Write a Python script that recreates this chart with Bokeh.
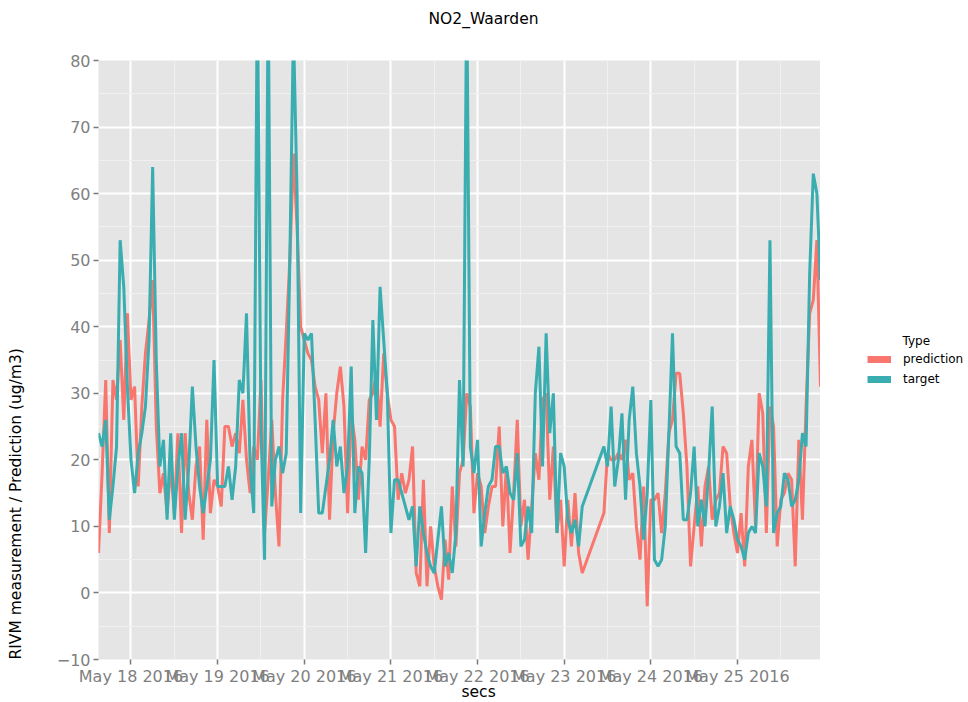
import pandas as pd
from bokeh.plotting import figure
from bokeh.layouts import row
from bokeh.models import (Range1d, FixedTicker, DatetimeTickFormatter, Title,
                          Legend, LegendItem, Label)
from bokeh.embed import file_html
from bokeh.resources import INLINE

# ---------------- data ----------------
start_day = "2016-05-17"
# hour offsets from start_day 00:00 (gap in the record on May 23 early morning)
hours = list(range(15, 150)) + list(range(155, 216))

prediction = [
    6, 18, 32, 9, 32, 29, 38, 26, 42, 29,
    31, 16, 28, 36, 41, 47, 25, 15, 18, 12,
    19, 12, 24, 9, 24, 15, 11, 19, 22, 8,
    26, 12, 17, 16, 13, 25, 25, 22, 24, 21,
    29, 20, 15, 22, 20, 32, 9, 17, 26, 15,
    7, 29, 39, 50, 66, 55, 40, 38, 36, 35,
    31, 29, 21, 30, 11, 24, 30, 34, 28, 12,
    27, 23, 14, 22, 20, 29, 30, 33, 25, 36,
    30, 26, 25, 14, 18, 15, 17, 22, 3, 1,
    17, 1, 10, 4, 1, -1, 8, 2, 16, 7,
    18, 20, 30, 28, 12, 18, 16, 9, 13, 16,
    16, 25, 10, 19, 6, 15, 26, 10, 14, 5,
    13, 21, 17, 29, 30, 14, 22, 9, 14, 4,
    14, 7, 15, 6, 3,
    12, 21, 20, 20, 21, 20, 23, 17, 18, 10,
    5, 16, -2, 14, 14, 15, 9, 15, 24, 26,
    33, 33, 27, 19, 4, 10, 16, 7, 16, 19,
    11, 14, 15, 22, 21, 13, 9, 6, 12, 4,
    19, 23, 10, 30, 27, 9, 28, 25, 7, 14,
    15, 18, 17, 4, 23, 11, 28, 42, 44, 53,
    31,
]

target = [
    24, 22, 26, 11, 16, 22, 53, 46, 31, 20,
    15, 21, 24, 28, 38, 64, 35, 19, 23, 11,
    24, 11, 19, 24, 11, 19, 31, 22, 16, 12,
    16, 20, 35, 16, 16, 16, 19, 14, 19, 32,
    30, 42, 19, 12, 92, 25, 5, 92, 13, 20,
    22, 18, 21, 50, 85, 60, 12, 39, 38, 39,
    26, 12, 12, 16, 20, 26, 19, 22, 15, 19,
    34, 12, 19, 18, 6, 20, 41, 26, 46, 38,
    30, 9, 17, 17, 15, 13, 11, 13, 4, 13,
    9, 6, 4, 3, 8, 13, 4, 6, 3, 9,
    32, 19, 92, 22, 18, 23, 7, 12, 16, 17,
    22, 22, 18, 19, 15, 14, 21, 7, 8, 13,
    9, 30, 37, 19, 39, 24, 30, 9, 21, 19,
    11, 9, 11, 7, 13,
    22, 19, 28, 16, 20, 27, 14, 26, 31, 21,
    16, 8, 15, 29, 5, 4, 5, 10, 24, 39,
    22, 21, 11, 11, 15, 22, 10, 14, 10, 18,
    28, 10, 13, 18, 9, 13, 11, 8, 7, 5,
    9, 10, 9, 21, 19, 13, 53, 9, 12, 13,
    18, 17, 13, 14, 17, 24, 22, 48, 63, 60,
    47,
]

x_tick_days = ["2016-05-18", "2016-05-19", "2016-05-20", "2016-05-21",
               "2016-05-22", "2016-05-23", "2016-05-24", "2016-05-25"]
y_ticks = [-10, 0, 10, 20, 30, 40, 50, 60, 70, 80]
y_minor = [-5, 5, 15, 25, 35, 45, 55, 65, 75]
series_names = ["prediction", "target"]
series_colors = ["#F8766D", "#39ADAF"]
legend_title = "Type"

# ---------------- build ----------------
t0 = pd.Timestamp(start_day)
times = [t0 + pd.Timedelta(hours=h) for h in hours]


def ms(ts):
    return pd.Timestamp(ts).value / 1e6


major_x = [ms(d) for d in x_tick_days]
minor_x = [ms(pd.Timestamp(d) + pd.Timedelta(hours=12)) for d in x_tick_days]

p = figure(width=820, height=702, x_axis_type="datetime",
           output_backend="svg", toolbar_location=None, title=None,
           x_range=Range1d(times[0], times[-1]), y_range=Range1d(-10, 80),
           min_border_left=98, min_border_right=0,
           min_border_top=60, min_border_bottom=43)

p.background_fill_color = "#E5E5E5"
p.border_fill_color = "white"
p.outline_line_color = None

for grid in (p.xgrid, p.ygrid):
    grid.grid_line_color = "white"
    grid.grid_line_width = 2
    grid.minor_grid_line_color = "#F0F0F0"
    grid.minor_grid_line_width = 1

p.xaxis.ticker = FixedTicker(ticks=major_x, minor_ticks=minor_x)
p.yaxis.ticker = FixedTicker(ticks=y_ticks, minor_ticks=y_minor)
fmt = "%b %d %Y"
p.xaxis.formatter = DatetimeTickFormatter(
    milliseconds=fmt, seconds=fmt, minsec=fmt, minutes=fmt, hourmin=fmt,
    hours=fmt, days=fmt, months=fmt, years=fmt)
p.yaxis.major_label_overrides = {t: (str(t).replace("-", "\u2212")) for t in y_ticks}

for ax in (p.xaxis, p.yaxis):
    ax.axis_line_color = None
    ax.major_tick_line_color = "#7A7A7A"
    ax.major_tick_line_width = 1.5
    ax.major_tick_out = 5
    ax.major_tick_in = 0
    ax.minor_tick_line_color = None
    ax.major_label_text_font = "DejaVu Sans"
    ax.major_label_text_font_size = "16px"
    ax.major_label_text_color = "#7F7F7F"
p.yaxis.major_label_standoff = 3
p.xaxis.major_label_standoff = 2

p.line(times, prediction, line_color=series_colors[0], line_width=3)
p.line(times, target, line_color=series_colors[1], line_width=3)

common = dict(text_font="DejaVu Sans", text_font_size="15.5px",
              text_font_style="normal", text_color="black")
# blank spacer panels keep the titles away from the frame, as in the original
p.add_layout(Title(text=" ", standoff=13, **common), "above")
p.add_layout(Title(text="NO2_Waarden", align="left", offset=330, standoff=0,
                   **common), "above")
p.add_layout(Title(text="secs", align="left", offset=363, standoff=-15,
                   **common), "below")
p.add_layout(Title(text=" ", standoff=9, **common), "left")
p.add_layout(Title(text="RIVM measurement / Prediction (ug/m3)", align="left",
                   standoff=0, **common), "left")

# ---------------- legend panel (right of the plot) ----------------
lf = figure(width=148, height=702, output_backend="svg", toolbar_location=None,
            x_axis_type=None, y_axis_type=None, title=None,
            x_range=Range1d(0, 1), y_range=Range1d(0, 1),
            min_border_left=0, min_border_right=0, min_border_top=0,
            min_border_bottom=0)
lf.outline_line_color = None
lf.background_fill_color = "white"
lf.border_fill_color = "white"

nan = float("nan")
swatches = [lf.line(x=[nan], y=[nan], line_color=c, line_width=7)
            for c in series_colors]
legend = Legend(items=[LegendItem(label=n, renderers=[s])
                       for n, s in zip(series_names, swatches)],
                location=(47, 270), margin=0, padding=0, spacing=0,
                glyph_width=24, glyph_height=20, label_height=20,
                label_standoff=12, label_text_font="DejaVu Sans",
                label_text_font_size="12px", label_text_color="black",
                background_fill_alpha=0, border_line_color=None)
lf.add_layout(legend)
lf.add_layout(Label(x=82, y=319, x_units="screen", y_units="screen",
                    text=legend_title, text_align="left", text_baseline="middle",
                    text_font="DejaVu Sans", text_font_size="12px",
                    text_color="black"))

layout = row(p, lf)
open("out.html", "w").write(file_html(layout, INLINE))
